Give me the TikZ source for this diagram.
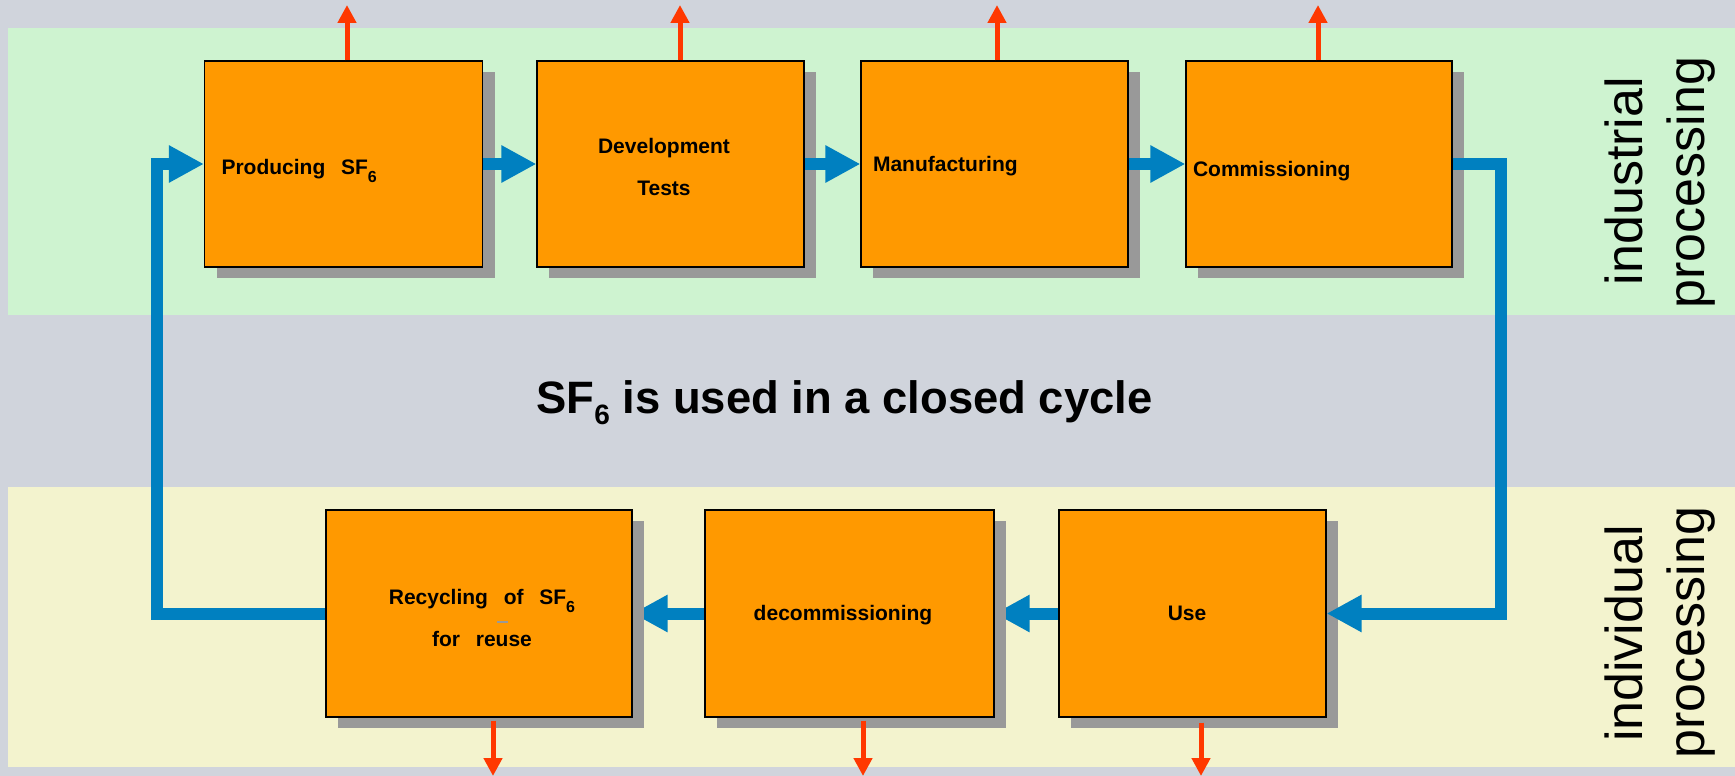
\documentclass[tikz,border=0pt]{standalone}
\usepackage{fontspec}
\setmainfont{Liberation Sans}
\usetikzlibrary{arrows.meta,shadows,calc}

\definecolor{bggray}{RGB}{208,212,220}
\definecolor{bandgreen}{RGB}{206,243,208}
\definecolor{bandyellow}{RGB}{243,243,206}
\definecolor{boxorange}{RGB}{255,153,0}
\definecolor{shadowgray}{RGB}{153,153,153}
\definecolor{flowblue}{RGB}{0,128,192}
\definecolor{ventred}{RGB}{255,56,0}

\pgfdeclarelayer{bands}
\pgfdeclarelayer{under}
\pgfsetlayers{bands,under,main}

% lowered digit for chemical formulas: drop, size, digit
\newcommand\subdigit[3]{\raisebox{-#1}{\fontsize{#2}{#2}\selectfont #3}}
% wide word gap used in the stage labels
\newcommand\wsp{\hspace{0.75em}}
% label with its baseline #1 below the box centre and its centre shifted by #2
\newcommand\placed[3]{\raisebox{-#1}[0pt][0pt]{\makebox[0pt]{\hspace*{#2}\hspace*{#2}#3}}}
% left-aligned label in a line of width #2, baseline #1 below the box centre
\newcommand\leftplaced[3]{\raisebox{-#1}[0pt][0pt]{\makebox[#2][l]{#3}}}

\begin{document}
\begin{tikzpicture}[x=1pt,y=-1pt,
  stage/.style={rectangle, draw=black, line width=1.2pt, fill=boxorange,
    inner sep=0pt, minimum height=206pt,
    font=\fontsize{21}{25}\selectfont\bfseries,
    drop shadow={shadow xshift=12pt, shadow yshift=-11pt,
      fill=shadowgray, opacity=1}},
  flow/.style={draw=flowblue, line width=12pt, line join=miter,
    -{Triangle[length=35pt,width=35pt]}},
  vent/.style={draw=ventred, line width=5pt,
    -{Triangle[length=18pt,width=18pt]}},
  sidelabel/.style={rotate=90, anchor=base, inner sep=0pt,
    font=\fontsize{52}{60}\selectfont},
]
\useasboundingbox (0,0) rectangle (1735,776);

% background and the two processing bands
\begin{pgfonlayer}{bands}
  \fill[bggray] (0,0) rectangle (1735,776);
  \fill[bandgreen] (8,28) rectangle (1735,315);
  \fill[bandyellow] (8,487) rectangle (1735,767);
\end{pgfonlayer}

% industrial stages
\node[stage, minimum width=278pt] (P) at (343.5,164)
  {\leftplaced{10.5pt}{244pt}{Producing\wsp SF\subdigit{8pt}{16pt}{6}}};
\node[stage, minimum width=267pt] (D) at (670.5,164)
  {\placed{-10.5pt}{-6.5pt}{\parbox[t]{200pt}{\centering Development\\[17pt]Tests}}};
\node[stage, minimum width=267pt] (M) at (994.5,164)
  {\leftplaced{7.5pt}{243pt}{Manufacturing}};
\node[stage, minimum width=266pt] (C) at (1319,164)
  {\leftplaced{12.5pt}{252pt}{Commissioning}};

% individual stages
\node[stage, minimum width=306pt, minimum height=207pt] (R) at (479,613.5)
  {\placed{-9pt}{3pt}{\parbox[t]{240pt}{\centering
    Recycling\wsp of\wsp SF\subdigit{8pt}{16pt}{6}\\[17pt]for\wsp reuse}}};
\node[stage, minimum width=289pt, minimum height=207pt] (X) at (849.5,613.5)
  {\placed{7pt}{-6.5pt}{decommissioning}};
\node[stage, minimum width=267pt, minimum height=207pt] (U) at (1192.5,613.5)
  {\placed{7pt}{-5.5pt}{Use}};

\draw[shadowgray, line width=1.5pt] (497,622) -- (508,622);

% cycle connectors
\draw[flow] (P.east) -- (D.west);
\draw[flow] (D.east) -- (M.west);
\draw[flow] (M.east) -- (C.west);

\coordinate (loopR) at (1500.5,164);
\coordinate (loopL) at (157,613.5);
\draw[flow] (C.east) -- (loopR) -- (loopR |- U.east) -- (U.east);
\draw[flow] (R.west) -- (loopL |- R.west) -- (loopL |- P.west) -- (P.west);

\begin{pgfonlayer}{under}
  \draw[flow] (U.west) -- (X.east);
  \draw[flow] (X.west) -- (R.east);
\end{pgfonlayer}

% emission arrows
\coordinate (vP) at (347,5);
\coordinate (vD) at (680,5);
\coordinate (vM) at (997,5);
\coordinate (vC) at (1318,5);
\draw[vent] (P.north -| vP) -- (vP);
\draw[vent] (D.north -| vD) -- (vD);
\draw[vent] (M.north -| vM) -- (vM);
\draw[vent] (C.north -| vC) -- (vC);

\coordinate (vR) at (493,776);
\coordinate (vX) at (863,776);
\coordinate (vU) at (1201,776);
\draw[vent] ($(R.south -| vR)+(0,3)$) -- (vR);
\draw[vent] ($(X.south -| vX)+(0,3)$) -- (vX);
\draw[vent] ($(U.south -| vU)+(0,5)$) -- (vU);

% headline
\node[font=\fontsize{45.4}{50}\selectfont\bfseries, anchor=base] (title) at (844.5,413)
  {SF\subdigit{11pt}{28pt}{6} is used in a closed cycle};

% band labels
\node[sidelabel] (ind1) at (1642,181) {industrial};
\node[sidelabel] (ind2) at (1704,182.5) {processing};
\node[sidelabel] (ivd1) at (1642,633.5) {individual};
\node[sidelabel] (ivd2) at (1704,632.5) {processing};
\end{tikzpicture}
\end{document}
